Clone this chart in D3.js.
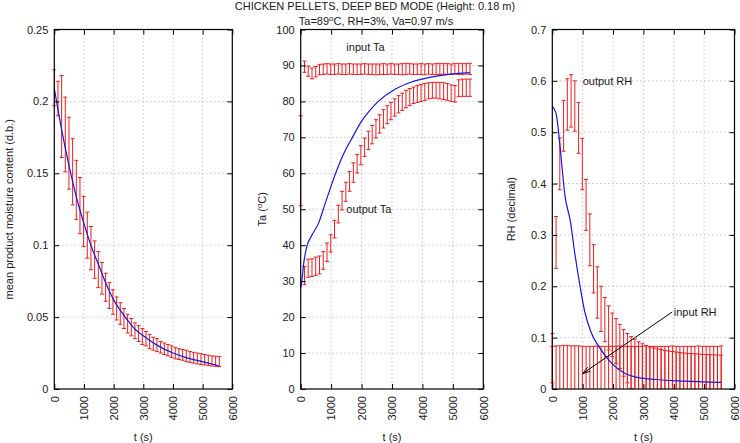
<!DOCTYPE html>
<html>
<head>
<meta charset="utf-8">
<script src="https://cdn.jsdelivr.net/npm/d3@7"></script>
<style>
    body { margin: 0; background: #fff; }
    svg text { font-family: "Liberation Sans", Arial, sans-serif; font-size: 11px; fill: #1a1a1a; }
</style>
</head>
<body>
<svg id="chart" width="740" height="443"></svg>
<script>
// Sampling times shared by the three panels (s)
const times = [
    0, 124, 247, 371, 494, 618, 741, 865, 988, 1112,
    1236, 1359, 1483, 1606, 1730, 1854, 1977, 2101, 2224, 2348,
    2472, 2595, 2719, 2842, 2966, 3090, 3213, 3337, 3460, 3584,
    3708, 3831, 3955, 4078, 4202, 4326, 4449, 4573, 4696, 4820,
    4944, 5067, 5191, 5314, 5438, 5562
];

// Panel 1: mean product moisture content, measured range + model
const mcLow = [
    0.197, 0.190, 0.161, 0.151, 0.139, 0.128, 0.118, 0.108, 0.099, 0.091,
    0.083, 0.077, 0.0705, 0.066, 0.061, 0.056, 0.052, 0.048, 0.045, 0.042,
    0.039, 0.037, 0.035, 0.033, 0.031, 0.030, 0.028, 0.027, 0.026, 0.025,
    0.024, 0.023, 0.022, 0.021, 0.0205, 0.020, 0.019, 0.0185, 0.018, 0.0175,
    0.017, 0.0168, 0.0164, 0.016, 0.0158, 0.0155
];
const mcHigh = [
    0.222, 0.214, 0.218, 0.203, 0.189, 0.174, 0.159, 0.147, 0.134, 0.123,
    0.113, 0.103, 0.0956, 0.088, 0.0805, 0.074, 0.069, 0.064, 0.060, 0.056,
    0.052, 0.049, 0.046, 0.044, 0.042, 0.040, 0.038, 0.036, 0.035, 0.033,
    0.032, 0.031, 0.030, 0.029, 0.028, 0.0275, 0.027, 0.026, 0.0255, 0.025,
    0.0245, 0.024, 0.0235, 0.023, 0.0228, 0.0225
];
const mcModelT = [0, 250, 500, 750, 1000, 1250, 1500, 1750, 2000, 2250, 2500, 2750, 3000, 3500, 4000, 4500, 5000, 5562];
const mcModel = [0.209, 0.180, 0.155, 0.133, 0.115, 0.099, 0.086, 0.073, 0.062, 0.054, 0.047, 0.041, 0.037, 0.030, 0.025, 0.0215, 0.019, 0.016];

// Panel 2: air temperature (input and output), measured range + model
const taInLow = [
    51.0, 88.1, 87.0, 86.3, 86.8, 87.4, 87.5, 87.6, 87.5, 87.5,
    87.6, 87.5, 87.5, 87.6, 87.5, 87.5, 87.5, 87.6, 87.5, 87.5,
    87.4, 87.5, 87.5, 87.5, 87.6, 87.5, 87.5, 87.4, 87.5, 87.6,
    87.5, 87.5, 87.5, 87.4, 87.6, 87.5, 87.5, 87.5, 87.6, 87.5,
    87.5, 87.6, 87.5, 87.5, 87.6, 87.5
];
const taInHigh = [
    76.0, 91.2, 89.8, 89.3, 89.7, 90.3, 90.4, 90.5, 90.4, 90.4,
    90.5, 90.4, 90.4, 90.5, 90.4, 90.4, 90.4, 90.5, 90.4, 90.4,
    90.4, 90.4, 90.5, 90.4, 90.5, 90.4, 90.4, 90.5, 90.6, 90.5,
    90.4, 90.4, 90.5, 90.4, 90.5, 90.4, 90.5, 90.6, 90.5, 90.5,
    90.4, 90.5, 90.6, 90.5, 90.5, 90.6
];
const taOutLow = [
    null, 29.0, 31.1, 31.3, 31.6, 32.0, 33.3, 35.5, 38.1, 42.0,
    46.2, 49.8, 52.2, 55.0, 57.5, 60.1, 62.4, 64.7, 66.6, 68.2,
    69.8, 71.2, 72.6, 73.8, 74.9, 75.9, 76.8, 77.5, 78.2, 78.8,
    79.4, 79.7, 80.0, 80.3, 80.7, 80.9, 80.9, 80.7, 80.5, 80.3,
    80.0, 79.8, 81.3, 81.4, 81.4, 81.4
];
const taOutHigh = [
    null, 34.1, 36.1, 36.2, 36.7, 37.0, 38.2, 40.6, 42.9, 46.9,
    51.1, 55.0, 57.5, 60.5, 62.9, 65.2, 67.7, 69.8, 71.7, 73.3,
    74.9, 76.3, 77.7, 78.8, 79.7, 80.7, 81.6, 82.3, 83.1, 83.6,
    84.0, 84.4, 84.7, 85.0, 85.2, 85.3, 85.3, 85.3, 85.2, 85.0,
    84.6, 84.4, 86.0, 86.2, 86.2, 86.2
];
const taModelT = [0, 50, 100, 200, 350, 580, 800, 1000, 1130, 1300, 1480, 1700, 2000, 2300, 2550, 3100, 3650, 4200, 4750, 5562];
const taModel = [28.0, 31.0, 35.0, 39.6, 42.5, 46.0, 51.5, 56.5, 59.6, 63.3, 66.6, 70.0, 74.5, 77.8, 80.0, 83.4, 85.4, 86.6, 87.4, 88.0];

// Panel 3: relative humidity (input and output), measured range + model
const rhOutLow = [
    0.012, 0.235, 0.388, 0.463, 0.504, 0.510, 0.502, 0.459, 0.388, 0.309,
    0.240, 0.187, 0.138, 0.112, 0.092, 0.076, 0.063, 0.050, 0.040, 0.025,
    0.012, 0.001, -0.008, -0.015, -0.020, -0.025, -0.028, -0.030, -0.030, -0.030,
    -0.031, -0.031, -0.032, -0.032, -0.033, -0.033, -0.034, -0.034, -0.035, -0.035,
    -0.035, -0.036, -0.036, -0.036, -0.037, -0.037
];
const rhOutHigh = [
    0.108, 0.336, 0.489, 0.562, 0.604, 0.612, 0.600, 0.558, 0.488, 0.408,
    0.341, 0.281, 0.238, 0.200, 0.178, 0.162, 0.148, 0.137, 0.126, 0.116,
    0.108, 0.102, 0.097, 0.092, 0.088, 0.085, 0.082, 0.080, 0.078, 0.077,
    0.075, 0.074, 0.073, 0.072, 0.071, 0.070, 0.0695, 0.069, 0.0685, 0.068,
    0.0675, 0.067, 0.067, 0.0665, 0.066, 0.066
];
const rhInLow = [
    -0.023, -0.023, -0.023, -0.023, -0.023, -0.023, -0.023, -0.023, -0.023, -0.023,
    -0.023, -0.023, -0.023, -0.023, -0.023, -0.023, -0.023, -0.023, -0.023, -0.023,
    -0.023, -0.023, -0.023, -0.023, -0.023, -0.023, -0.023, -0.023, -0.023, -0.023,
    -0.023, -0.023, -0.023, -0.023, -0.023, -0.023, -0.023, -0.023, -0.023, -0.023,
    -0.023, -0.023, -0.023, -0.023, -0.023, -0.023
];
const rhInHigh = [
    0.083, 0.084, 0.084, 0.085, 0.085, 0.084, 0.084, 0.084, 0.083, 0.083,
    0.083, 0.083, 0.084, 0.083, 0.083, 0.083, 0.083, 0.083, 0.084, 0.083,
    0.083, 0.083, 0.083, 0.083, 0.083, 0.084, 0.083, 0.083, 0.083, 0.083,
    0.083, 0.083, 0.084, 0.083, 0.083, 0.083, 0.083, 0.083, 0.083, 0.084,
    0.083, 0.083, 0.083, 0.083, 0.083, 0.084
];
const rhModelT = [0, 90, 130, 250, 420, 600, 710, 900, 1070, 1280, 1560, 1990, 2400, 2850, 3400, 4300, 5562];
const rhModel = [0.550, 0.542, 0.535, 0.475, 0.375, 0.325, 0.277, 0.205, 0.150, 0.110, 0.080, 0.048, 0.030, 0.022, 0.0185, 0.0155, 0.013];

// Tick values
const xTicks = [0, 1000, 2000, 3000, 4000, 5000, 6000];
const mcTicks = [0, 0.05, 0.1, 0.15, 0.2, 0.25];
const taTicks = [0, 10, 20, 30, 40, 50, 60, 70, 80, 90, 100];
const rhTicks = [0, 0.1, 0.2, 0.3, 0.4, 0.5, 0.6, 0.7];

const svg = d3.select("#chart");
const plotTop = 29.5;
const plotBottom = 389;
const red = "#ee1c1c";
const blue = "#1515e6";
const FONT = '"Liberation Sans", Arial, sans-serif';

// Add a text with an "o" superscript (degree) part
function supText(sel, parts) {
    parts.forEach(function (p) {
        const ts = sel.append("tspan").text(p.s);
        if (p.sup) ts.attr("dy", -4).style("font-size", "8px");
        if (p.after) ts.attr("dy", 4);
    });
}

function drawPanel(p) {
    const x = d3.scaleLinear().domain([0, 6000]).range([p.left, p.right]);
    const y = d3.scaleLinear().domain([p.yTicks[0], p.yTicks[p.yTicks.length - 1]]).range([plotBottom, plotTop]);
    const g = svg.append("g");

    // dotted grid
    g.selectAll(".gx").data(xTicks.slice(1, -1)).enter().append("line")
        .attr("x1", d => x(d)).attr("x2", d => x(d))
        .attr("y1", plotTop).attr("y2", plotBottom)
        .attr("stroke", "#a8a8a8").attr("stroke-dasharray", "1,3");
    g.selectAll(".gy").data(p.yTicks.slice(1, -1)).enter().append("line")
        .attr("x1", p.left).attr("x2", p.right)
        .attr("y1", d => y(d)).attr("y2", d => y(d))
        .attr("stroke", "#a8a8a8").attr("stroke-dasharray", "1,3");

    // data, clipped vertically to the plot area
    const clipId = "clip" + p.id;
    svg.append("clipPath").attr("id", clipId).append("rect")
        .attr("x", p.left - 6).attr("y", plotTop)
        .attr("width", p.right - p.left + 12).attr("height", plotBottom - plotTop);
    const dg = g.append("g").attr("clip-path", "url(#" + clipId + ")");

    p.series.forEach(function (s) {
        const pts = times.map((t, i) => ({ t: t, lo: s.lo[i], hi: s.hi[i] })).filter(d => d.lo != null);
        const eb = dg.append("g").attr("stroke", red).attr("stroke-width", 1);
        eb.selectAll(".v").data(pts).enter().append("line")
            .attr("x1", d => x(d.t)).attr("x2", d => x(d.t))
            .attr("y1", d => y(d.lo)).attr("y2", d => y(d.hi));
        eb.selectAll(".lo").data(pts).enter().append("line")
            .attr("x1", d => x(d.t) - 2).attr("x2", d => x(d.t) + 2)
            .attr("y1", d => y(d.lo)).attr("y2", d => y(d.lo));
        eb.selectAll(".hi").data(pts).enter().append("line")
            .attr("x1", d => x(d.t) - 2).attr("x2", d => x(d.t) + 2)
            .attr("y1", d => y(d.hi)).attr("y2", d => y(d.hi));
    });

    const line = d3.line()
        .x((d, i) => x(p.modelT[i]))
        .y(d => y(d))
        .curve(d3.curveMonotoneX);
    dg.append("path")
        .datum(p.model)
        .attr("d", line)
        .attr("fill", "none")
        .attr("stroke", blue)
        .attr("stroke-width", 1.2);

    // axes (ticks point inwards on all four sides)
    const fmt = d => String(d);
    const xb = g.append("g").attr("transform", "translate(0," + plotBottom + ")")
        .call(d3.axisBottom(x).tickValues(xTicks).tickFormat(fmt).tickSizeInner(-5).tickSizeOuter(0));
    xb.selectAll("text")
        .attr("transform", "rotate(-90)")
        .attr("x", -7).attr("y", 0).attr("dy", "0.35em")
        .style("text-anchor", "end");
    g.append("g").attr("transform", "translate(0," + plotTop + ")")
        .call(d3.axisTop(x).tickValues(xTicks).tickSizeInner(-5).tickSizeOuter(0).tickFormat(""));
    g.append("g").attr("transform", "translate(" + p.left + ",0)")
        .call(d3.axisLeft(y).tickValues(p.yTicks).tickFormat(fmt).tickSizeInner(-5).tickSizeOuter(0).tickPadding(6));
    g.append("g").attr("transform", "translate(" + p.right + ",0)")
        .call(d3.axisRight(y).tickValues(p.yTicks).tickSizeInner(-5).tickSizeOuter(0).tickFormat(""));
    g.selectAll(".domain").remove();
    g.selectAll(".tick line").attr("stroke", "#000");
    g.selectAll(".tick text").attr("font-size", 11).attr("font-family", FONT).attr("fill", "#1a1a1a");

    // border
    g.append("rect")
        .attr("x", p.left).attr("y", plotTop)
        .attr("width", p.right - p.left).attr("height", plotBottom - plotTop)
        .attr("fill", "none").attr("stroke", "#000").attr("stroke-width", 1.2);

    // labels inside the plot
    (p.labels || []).forEach(function (l) {
        g.append("text")
            .attr("x", x(l.t)).attr("y", y(l.v)).attr("dy", "0.35em")
            .text(l.text);
    });

    if (p.arrow) {
        const x1 = x(p.arrow[0]), y1 = y(p.arrow[1]);
        const x2 = x(p.arrow[2]), y2 = y(p.arrow[3]);
        const ang = Math.atan2(y2 - y1, x2 - x1);
        const head = 8, spread = 0.3;
        const path = d3.path();
        path.moveTo(x1, y1);
        path.lineTo(x2, y2);
        path.moveTo(x2 - head * Math.cos(ang - spread), y2 - head * Math.sin(ang - spread));
        path.lineTo(x2, y2);
        path.lineTo(x2 - head * Math.cos(ang + spread), y2 - head * Math.sin(ang + spread));
        g.append("path").attr("d", path.toString())
            .attr("fill", "none").attr("stroke", "#000").attr("stroke-width", 1);
    }

    // axis titles
    g.append("text")
        .attr("x", (p.left + p.right) / 2).attr("y", 441)
        .style("text-anchor", "middle")
        .text("t (s)");
    const yl = g.append("text")
        .attr("transform", "translate(" + (p.yLabelX + 4) + "," + (plotTop + plotBottom) / 2 + ") rotate(-90)")
        .style("text-anchor", "middle");
    supText(yl, p.yLabel);
}

// Title
svg.append("text").attr("x", 375).attr("y", 9.7).style("text-anchor", "middle")
    .text("CHICKEN PELLETS, DEEP BED MODE (Height: 0.18 m)");
const sub = svg.append("text").attr("x", 376).attr("y", 24.7).style("text-anchor", "middle");
supText(sub, [{ s: "Ta=89" }, { s: "o", sup: true }, { s: "C, RH=3%, Va=0.97 m/s", after: true }]);

drawPanel({
    id: 1, left: 54.3, right: 232.3, yTicks: mcTicks, yLabelX: 9,
    yLabel: [{ s: "mean product moisture content (d.b.)" }],
    series: [{ lo: mcLow, hi: mcHigh }],
    modelT: mcModelT, model: mcModel
});

drawPanel({
    id: 2, left: 300.7, right: 483.3, yTicks: taTicks, yLabelX: 262,
    yLabel: [{ s: "Ta (" }, { s: "o", sup: true }, { s: "C)", after: true }],
    series: [{ lo: taInLow, hi: taInHigh }, { lo: taOutLow, hi: taOutHigh }],
    modelT: taModelT, model: taModel,
    labels: [{ t: 1500, v: 95, text: "input Ta" }, { t: 1500, v: 50, text: "output Ta" }]
});

drawPanel({
    id: 3, left: 552.3, right: 734.5, yTicks: rhTicks, yLabelX: 511,
    yLabel: [{ s: "RH (decimal)" }],
    series: [{ lo: rhInLow, hi: rhInHigh }, { lo: rhOutLow, hi: rhOutHigh }],
    modelT: rhModelT, model: rhModel,
    labels: [{ t: 1000, v: 0.6, text: "output RH" }, { t: 4000, v: 0.15, text: "input RH" }],
    arrow: [3950, 0.15, 1000, 0.03]
});
</script>
</body>
</html>
